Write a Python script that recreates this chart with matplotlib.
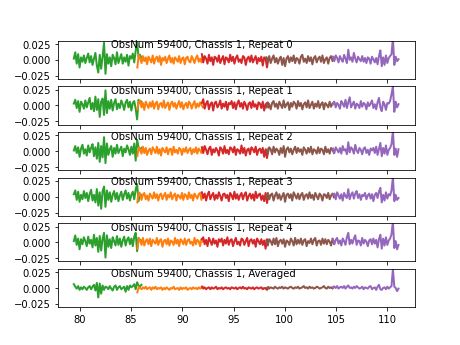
import numpy as np
import matplotlib
matplotlib.use('Agg')
import matplotlib.pyplot as plt

# band edges (GHz) and colours
bands = [(79.4, 86.0), (85.6, 92.0), (91.9, 98.4), (98.2, 104.8), (104.7, 111.1)]
colors = ['tab:green', 'tab:orange', 'tab:red', 'tab:brown', 'tab:purple']
titles = ['ObsNum 59400, Chassis 1, Repeat 0', 'ObsNum 59400, Chassis 1, Repeat 1',
          'ObsNum 59400, Chassis 1, Repeat 2', 'ObsNum 59400, Chassis 1, Repeat 3',
          'ObsNum 59400, Chassis 1, Repeat 4', 'ObsNum 59400, Chassis 1, Averaged']

# spectra, units of 1e-3
# repeat 0
g0 = [2, 12, -6, 9, -12, 4, -3, 7, -5, 3, 10, -4, 6, -8, 2, 11, -9, -20, 8, -14, 5, 27, -22, 9, -6, 4, -10, 8, 3, -7, 12, -5, 2, 9, -6, 4, -3, 8, -9, 6, 2, 10, -4, 14, 28, 5, 8, 3]
o0 = [-12, 8, 3, -5, 6, -2, 4, -7, 5, 1, -4, 7, -6, 2, 5, -3, 6, -8, 3, -1, 5, -5, 2, 7, -4, 3, -6, 4, 1, -3, 6, -5, 2, 4, -7, 3, 5, -2, -4, 6, 1, -5, 3, 7, -3, 2, -4, 5]
r0 = [9, -4, 6, 2, -6, 8, -2, 4, -8, 5, 3, -3, 7, -5, 1, 6, -7, 4, 2, -4, 8, -2, 5, -6, 3, 7, -3, 1, -5, 6, 4, -8, 2, 5, -3, 7, -4, 1, 6, -6, 3, -2, 5, -9, 4, 2, -12, 3]
b0 = [4, -3, 6, -5, 2, 7, -4, 3, -6, 1, 5, -8, 3, -10, 2, 6, -4, 4, -2, 7, -5, 3, 1, -6, 5, 8, -3, 2, -5, 6, -2, 4, -7, 3, 6, -4, 2, 5, -3, 7, -5, 1, 4, -6, 3, 6, -2, 4]
p0 = [5, -2, 7, 3, -4, 6, 1, -3, 8, 2, -5, 16, 0, 4, -3, 11, 2, -4, 5, 1, -2, 6, -3, 3, -5, 4, 2, -6, 5, 1, -4, 3, -7, 6, 15, -10, 4, -8, 7, -5, 3, 6, 9, 34, -8, 5, -2, 1]
# repeat 1
g1 = [3, 9, -4, 7, -10, 6, 2, -5, 8, -3, 5, 12, -6, 4, -9, 14, -7, 10, -18, 6, 11, -15, 24, -12, 7, -5, 9, -8, 4, 10, -6, 3, -4, 8, 2, -7, 5, 9, -3, 6, -8, 4, 7, -5, -22, 9, 4, 6]
o1 = [-6, 5, 8, -3, 4, -7, 6, 1, -4, 5, -2, 7, -5, 3, 6, -6, 2, 4, -3, 8, -4, 1, 5, -7, 3, 6, -2, 4, -5, 2, 7, -3, 5, -6, 1, 4, -4, 6, 3, -5, 2, 7, -4, 3, -2, 5, 1, -3]
r1 = [4, 10, -5, 3, 7, -6, 2, 5, -8, 4, 6, -3, 1, 8, -5, 3, -2, 6, -7, 4, 2, 7, -4, 5, -6, 3, 8, -2, 4, -5, 6, 1, -7, 3, 5, -4, 7, -2, 2, -6, 5, 3, -4, 6, -8, 2, 4, -3]
b1 = [-3, 5, 2, -6, 4, 7, -2, 3, -5, 6, 1, -4, 8, -3, 2, 5, -7, 4, -2, 6, 3, -5, 7, -1, 4, -6, 2, 5, -3, 8, -4, 1, 6, -5, 3, -2, 7, -4, 2, 5, -6, 4, 1, -3, 6, -2, 3, 5]
p1 = [2, 6, -3, 4, 1, -5, 7, 3, -2, 9, -4, 5, 13, -3, 2, 6, -5, 3, 1, -4, 7, -2, 4, 2, -6, 5, -1, 3, 8, -4, 2, -6, 5, 12, -3, -9, 6, 2, -7, 4, 3, 7, 18, 30, -10, 6, -3, 2]
# repeat 2
g2 = [1, 8, -3, 6, -9, 4, 10, -4, 3, -7, 9, -2, 5, 11, -8, 6, -12, 13, -17, 8, -10, 22, -19, 12, -6, 3, 8, -9, 5, -4, 10, -3, 2, 7, -8, 4, -2, 9, 3, -6, 7, -4, 12, -15, 18, 6, 3, 5]
o2 = [-8, 6, 2, -4, 7, -3, 5, -6, 1, 4, -5, 6, 2, -3, 7, -4, 3, -7, 5, 1, -2, 6, -5, 3, 4, -6, 7, -2, 2, -4, 5, 3, -6, 4, -1, 6, -3, 2, 5, -5, 3, -2, 6, -4, 4, 1, -3, 6]
r2 = [6, -3, 8, 2, -5, 4, 7, -6, 3, -2, 5, 1, -7, 6, 3, -4, 8, -3, 2, -5, 6, 4, -2, 7, -6, 3, 1, -4, 9, -3, 5, -7, 2, 4, -5, 6, 3, -2, 7, -6, 2, 4, -3, 5, -9, 3, -11, 4]
b2 = [2, -4, 6, 3, -5, 7, -2, 4, 1, -6, 5, -3, 8, -9, 3, 6, -2, 4, -5, 2, 7, -3, 5, -1, 3, -6, 6, 2, -4, 5, -2, 7, -5, 3, 1, -4, 6, -3, 4, 2, -5, 7, -2, 3, -4, 5, 2, -3]
p2 = [4, -3, 6, 2, -2, 5, -4, 8, 1, 3, -5, 14, -2, 6, 3, -4, 10, 1, -3, 5, 2, -5, 4, 6, -3, 2, -6, 4, 1, 5, -3, 7, -6, 3, 13, -8, 5, -4, 9, -6, 2, 5, 11, 32, -6, 4, -9, 3]
# repeat 3
g3 = [4, 10, -5, 8, -8, 3, -4, 9, -2, 6, -7, 4, 11, -6, 3, -9, 12, -14, 7, -19, 9, 16, -16, 10, -5, 7, -8, 3, 9, -4, 6, -7, 2, 8, -5, 4, 10, -3, 6, -6, 3, 8, -4, 11, 20, -7, 5, 2]
o3 = [-9, 7, 4, -5, 3, 6, -4, 2, -6, 5, 1, -3, 7, -2, 4, -6, 3, 5, -4, 2, 6, -5, 3, -1, 7, -4, 2, 5, -6, 3, 1, -3, 6, -5, 4, 2, -4, 7, -2, 3, -6, 5, 1, -3, 4, 6, -5, 2]
r3 = [7, -2, 5, -6, 3, 8, -4, 2, 6, -5, 3, -3, 7, 1, -6, 4, 5, -2, 3, -7, 6, 2, -4, 8, -3, 4, -5, 2, 6, -4, 3, 7, -6, 1, 5, -3, 4, -6, 8, -2, 3, 5, -5, 2, -7, 6, -10, 2]
b3 = [-2, 6, -4, 3, 5, -6, 2, 7, -3, 4, -5, 1, 6, -8, 3, 5, -2, 4, -6, 7, 2, -3, 5, -4, 3, 6, -5, 2, 4, -3, 7, -2, 3, -5, 6, 1, -4, 5, 2, -6, 4, 3, -2, 6, -4, 2, 5, -1]
p3 = [3, 5, -4, 7, 2, -3, 4, -6, 6, 1, -2, 12, -4, 3, 7, -3, 5, 9, -2, 4, -5, 3, 1, 6, -4, 2, 5, -3, 4, -7, 3, 6, -2, 8, 14, -9, 3, -6, 7, -3, 4, 2, 10, 31, -7, 3, -5, -2]
# repeat 4
g4 = [2, 11, -4, 6, -11, 5, -3, 8, 2, -6, 9, -2, 4, -8, 12, -5, 7, -15, 10, -13, 6, 15, -24, 11, -7, 5, -9, 8, 2, -5, 10, -4, 6, -7, 3, 9, -5, 4, 8, -3, 6, -6, 9, 15, -14, 7, 4, 3]
o4 = [-10, 6, 3, -4, 7, -5, 2, 5, -3, 6, -6, 4, 1, -2, 7, -4, 3, 5, -7, 2, 4, -3, 6, -5, 3, 1, -4, 7, -2, 4, -6, 5, 2, -3, 6, -4, 3, 5, -2, 1, -5, 7, -3, 4, 2, -6, 5, 1]
r4 = [5, 8, -3, 4, -6, 7, 2, -4, 6, -2, 3, -7, 5, 1, 6, -5, 4, -2, 8, -4, 3, 5, -6, 2, 7, -3, 1, -5, 6, 4, -4, 2, 7, -6, 3, 5, -2, 4, -7, 6, 2, -3, 5, -4, 3, -10, 5, 2]
b4 = [3, -5, 5, 2, -4, 6, -3, 7, -6, 2, 4, -2, 5, -7, 3, 1, -4, 6, 2, -5, 7, -3, 4, -2, 6, -4, 3, 5, -6, 2, -1, 6, -3, 4, 7, -5, 2, 3, -4, 6, -2, 5, -3, 4, 1, -5, 6, -2]
p4 = [5, -3, 4, 7, -2, 3, -5, 6, 2, -4, 8, 15, -3, 4, -2, 6, 11, -4, 3, 2, -5, 7, -2, 4, 1, -6, 3, 5, -3, 6, -2, 4, -8, 5, 12, -10, 6, -5, 8, -4, 3, 6, 13, 33, -9, 2, -11, -4]
# averaged
ga = [6, 2, -1, 3, -3, 1, -2, 2, 0, -3, 1, 3, -2, 2, 5, -4, 8, -15, 7, -9, 4, -3, 2, 1, -2, 3, -1, -4, 2, 4, -3, 1, 3, -2, 0, 2, -6, 3, -3, 4, 1, 3, 6, -2, 9, 4, 2, 5]
oa = [-7, 2, 0, -2, 1, -1, 2, -2, 0, 1, -3, 1, -1, 2, -2, 0, -1, 1, -3, 0, -2, 1, -1, -3, 0, -1, 2, -2, -1, 0, -3, 1, -2, 0, -1, 1, -3, -1, 0, -2, 1, -1, 0, -2, 1, -1, 0, 2]
ra = [2, -1, 1, -2, 0, 1, -2, 1, -1, 0, 2, -2, 0, -1, 1, -2, 0, 1, -1, 0, -2, 1, 0, -1, 1, -2, 0, 1, -1, 2, -1, 0, -2, 1, 0, -1, 1, -2, 0, 1, -1, 0, 1, -2, 0, -1, -3, 1]
ba = [0, 1, -1, 1, 0, -1, 2, 0, -1, 1, 0, 2, -1, 1, 0, -1, 1, 2, 0, -1, 1, 0, 2, -1, 0, 1, 3, 0, 1, -1, 2, 0, 1, -1, 0, 2, 1, -1, 0, 1, 3, 0, -1, 2, 0, 1, -1, 2]
pa = [1, 2, 0, 3, -1, 1, 2, 0, 3, -1, 2, 4, 0, 1, -1, 2, 0, 3, 1, -1, 0, 2, -2, 1, 0, -1, 2, 3, -2, 0, 1, -3, 2, 5, -2, -3, 0, 1, -2, 2, -1, 1, 3, 30, 2, 0, -5, -1]

panels = [[g0, o0, r0, b0, p0],
          [g1, o1, r1, b1, p1],
          [g2, o2, r2, b2, p2],
          [g3, o3, r3, b3, p3],
          [g4, o4, r4, b4, p4],
          [ga, oa, ra, ba, pa]]

fig, axes = plt.subplots(6, 1, sharex=True, figsize=(6.4, 4.8), dpi=72)

for ax, spec, title in zip(axes, panels, titles):
    for (f0, f1), vals, c in zip(bands, spec, colors):
        y = np.array(vals) * 1e-3
        freq = np.linspace(f0, f1, len(y))
        ax.plot(freq, y, color=c, lw=2.0)
    ax.set_ylim(-0.03, 0.03)
    ax.set_yticks([-0.025, 0.0, 0.025])
    ax.text(83, 0.019, title)

axes[-1].set_xticks([80, 85, 90, 95, 100, 105, 110])

fig.savefig('out.png', dpi=72)
